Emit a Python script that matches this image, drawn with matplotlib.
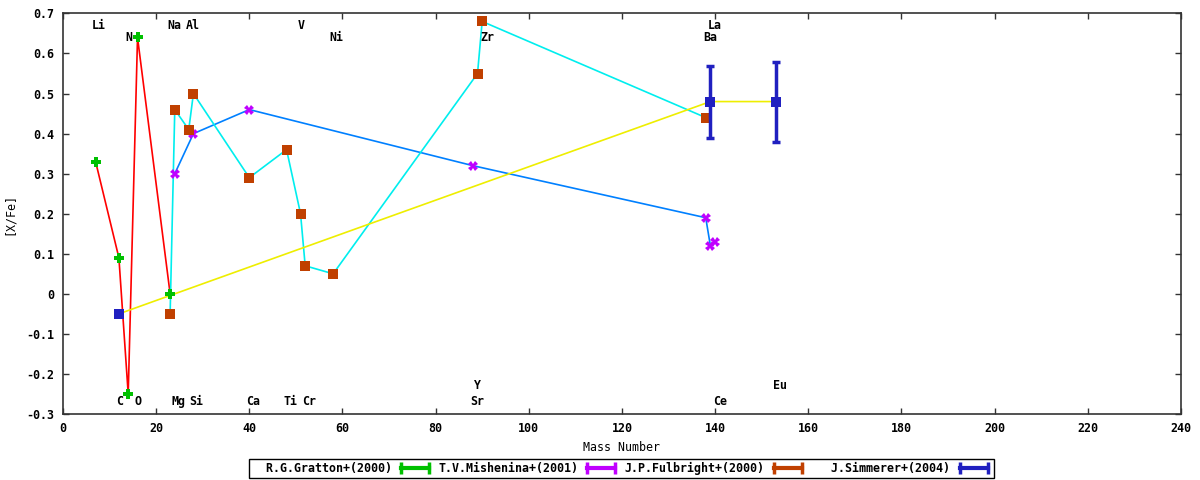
import matplotlib
matplotlib.use('Agg')
import matplotlib.pyplot as plt
from matplotlib.lines import Line2D

plt.rcParams['font.family'] = ['DejaVu Sans Mono']
plt.rcParams['font.weight'] = 'bold'
plt.rcParams['font.size'] = 8.4

# 各文献の [X/Fe] (横軸は質量数)
gratton_mass = [7, 12, 14, 16, 23]
gratton_xfe = [0.33, 0.09, -0.25, 0.64, 0.00]

mishenina_mass = [24, 28, 40, 88, 138, 139, 140]
mishenina_xfe = [0.30, 0.40, 0.46, 0.32, 0.19, 0.12, 0.13]

fulbright_mass = [23, 24, 27, 28, 40, 48, 51, 52, 58, 89, 90, 138]
fulbright_xfe = [-0.05, 0.46, 0.41, 0.50, 0.29, 0.36, 0.20, 0.07, 0.05, 0.55, 0.68, 0.44]

simmerer_mass = [12, 139, 153]
simmerer_xfe = [-0.05, 0.48, 0.48]
simmerer_err = [0.0, 0.09, 0.10]

# 元素名ラベル
elements = ['Li', 'N', 'Na', 'Al', 'V', 'Ni', 'Zr', 'La', 'Ba',
            'C', 'O', 'Mg', 'Si', 'Ca', 'Ti', 'Cr', 'Y', 'Sr', 'Eu', 'Ce']
element_x = [7.6, 14.1, 23.9, 27.8, 51.1, 58.8, 91.1, 140, 139,
             12.1, 16, 24.8, 28.7, 40.9, 48.9, 52.8, 89.1, 89, 153.9, 141]
element_y = [0.67, 0.64, 0.67, 0.67, 0.67, 0.64, 0.64, 0.67, 0.64,
             -0.27, -0.27, -0.27, -0.27, -0.27, -0.27, -0.27, -0.23, -0.27, -0.23, -0.27]

legend_labels = ['R.G.Gratton+(2000)', 'T.V.Mishenina+(2001)',
                 'J.P.Fulbright+(2000)', 'J.Simmerer+(2004)']

fig = plt.figure(figsize=(12, 4.8), dpi=100)
ax = fig.add_axes([0.0525, 0.1375, 0.9315, 0.8345])

# 折れ線
ax.plot(gratton_mass, gratton_xfe, color='#ff0000', lw=1.2, zorder=2)
ax.plot(mishenina_mass, mishenina_xfe, color='#0080ff', lw=1.2, zorder=2)
ax.plot(fulbright_mass, fulbright_xfe, color='#00eeee', lw=1.2, zorder=2)
ax.plot(simmerer_mass, simmerer_xfe, color='#eeee00', lw=1.2, zorder=2)

# 点と誤差棒
ax.plot(gratton_mass, gratton_xfe, ls='none', marker='P', ms=7, color='#00c000', mew=0, zorder=3)
ax.plot(mishenina_mass, mishenina_xfe, ls='none', marker='X', ms=7, color='#c000ff', mew=0, zorder=3)
ax.plot(fulbright_mass, fulbright_xfe, ls='none', marker='s', ms=7, color='#c04000', mew=0, zorder=3)
ax.errorbar(simmerer_mass, simmerer_xfe, yerr=simmerer_err, fmt='none', ecolor='#2020c0',
            elinewidth=2.5, capsize=3, capthick=2.5, zorder=3)
ax.plot(simmerer_mass, simmerer_xfe, ls='none', marker='s', ms=7, color='#2020c0', mew=0, zorder=4)

for name, x, y in zip(elements, element_x, element_y):
    ax.text(x, y, name, ha='center', va='center', fontsize=8.4, fontweight='bold')

ax.set_xlim(0, 240)
ax.set_ylim(-0.3, 0.7)
ax.set_xticks(range(0, 241, 20))
ax.set_yticks([-0.3, -0.2, -0.1, 0, 0.1, 0.2, 0.3, 0.4, 0.5, 0.6, 0.7])
ax.set_yticklabels(['-0.3', '-0.2', '-0.1', '0', '0.1', '0.2', '0.3', '0.4', '0.5', '0.6', '0.7'])
ax.tick_params(direction='in', top=True, right=True, length=4, width=1, pad=6, color='#333333')
for s in ax.spines.values():
    s.set_color('#333333')
    s.set_linewidth(1.2)

ax.set_xlabel('Mass Number', labelpad=4)
ax.set_ylabel('[X/Fe]', labelpad=8)

# 凡例 (gnuplot 風に右寄せ)
colors = ['#00c000', '#c000ff', '#c04000', '#2020c0']
handles = [Line2D([], [], color=c, lw=3, marker='|', ms=8, mew=2.5) for c in colors]
width = max(len(t) for t in legend_labels)
labels = [t.rjust(width) for t in legend_labels]
leg = ax.legend(handles, labels, ncol=4, loc='center', bbox_to_anchor=(0.518, 0.024),
                bbox_transform=fig.transFigure, fancybox=False, edgecolor='black',
                framealpha=1, markerfirst=False, numpoints=2, handlelength=3.0,
                handletextpad=0.5, columnspacing=0.45, borderpad=0.25, borderaxespad=0,
                prop={'family': 'DejaVu Sans Mono', 'weight': 'bold', 'size': 8.4})
leg.get_frame().set_linewidth(1.0)

fig.savefig('out.png', dpi=100)
